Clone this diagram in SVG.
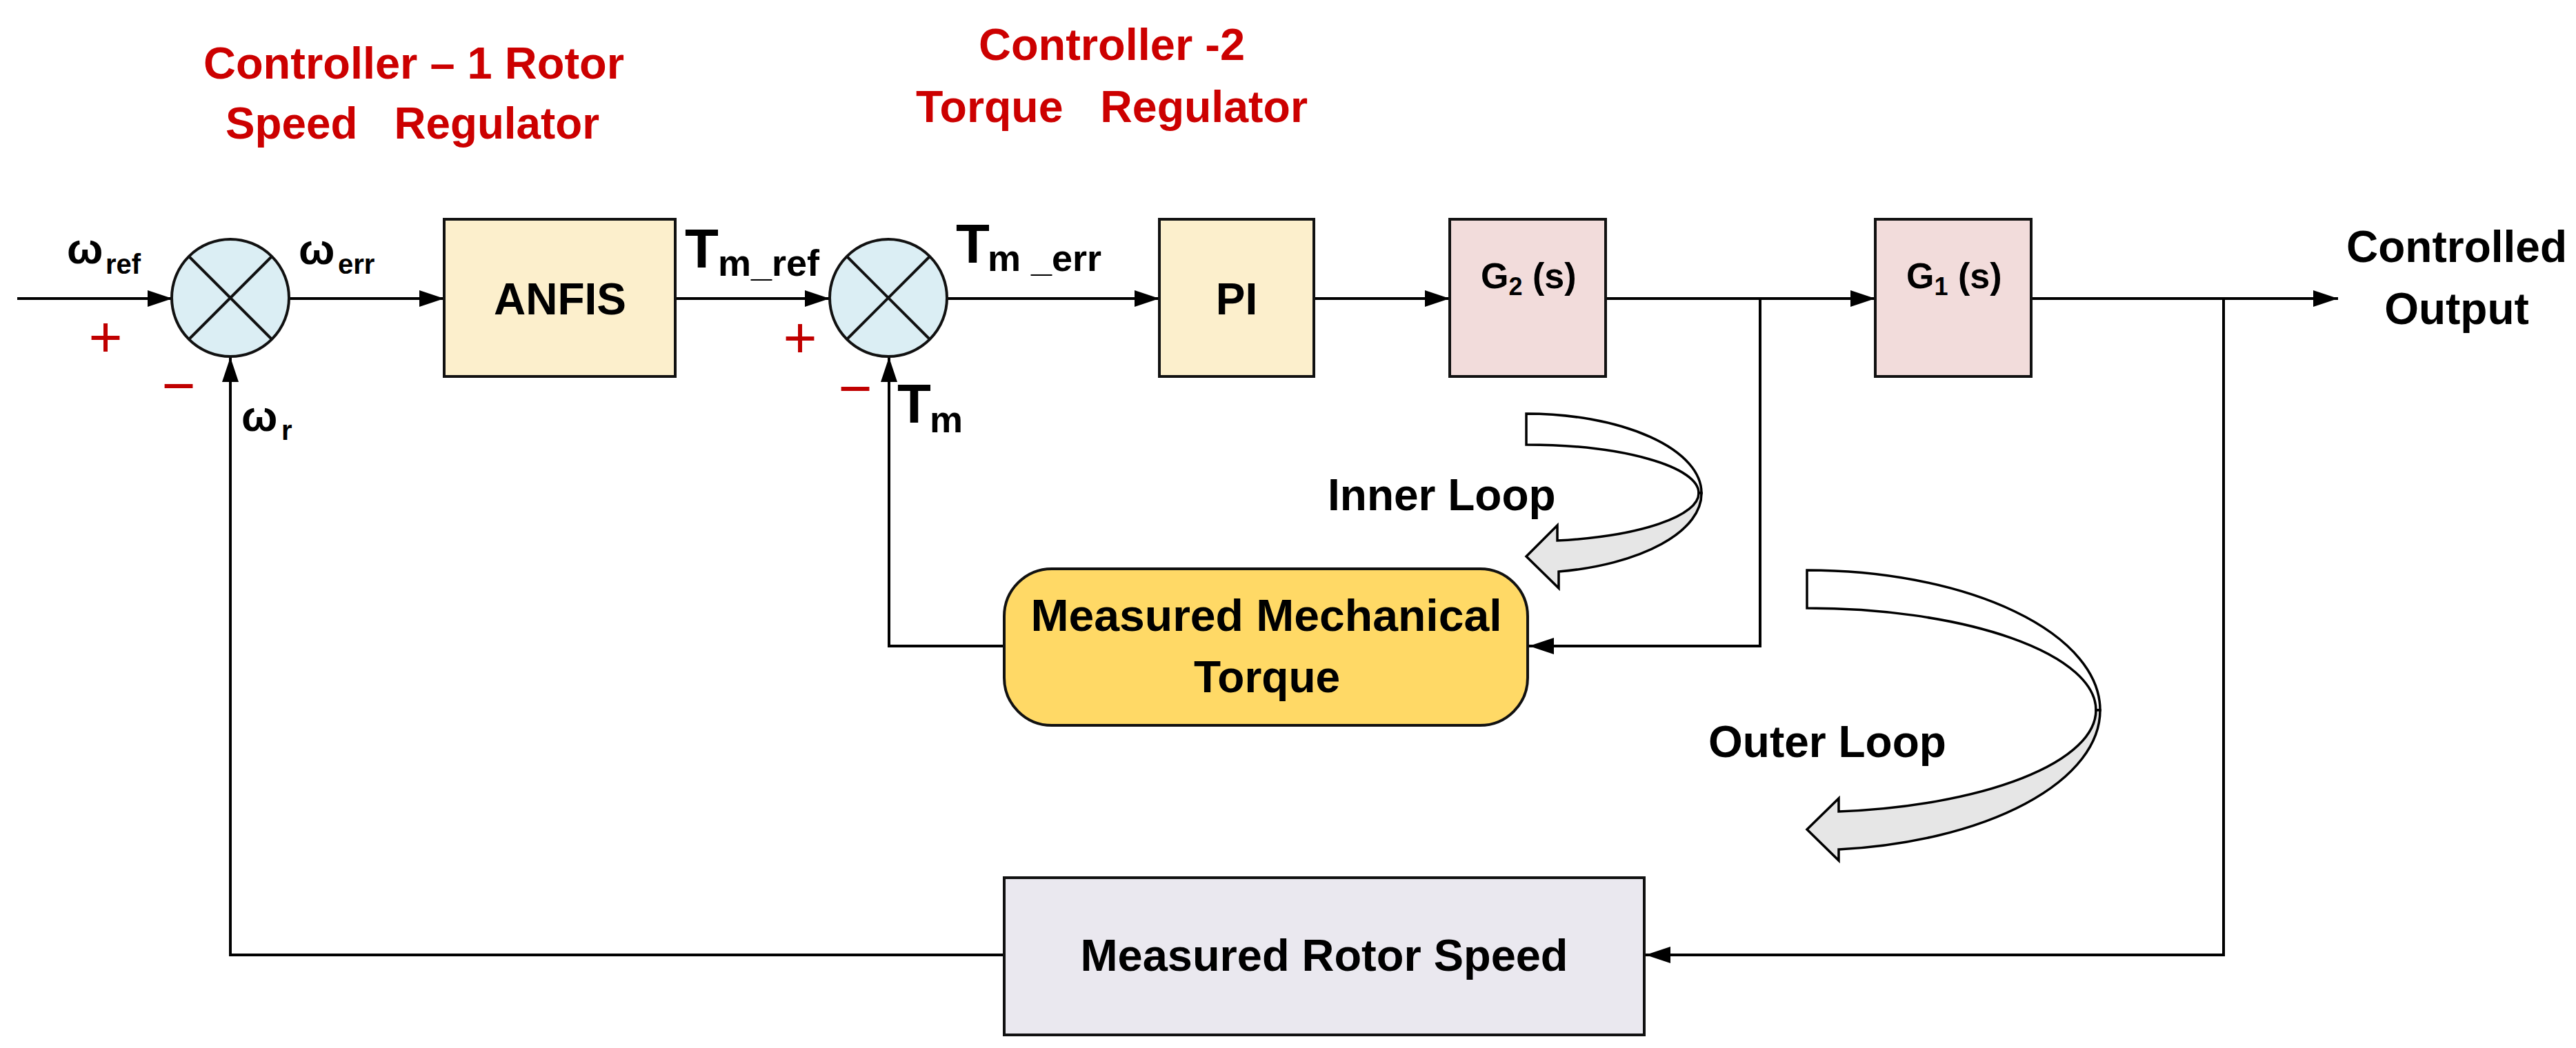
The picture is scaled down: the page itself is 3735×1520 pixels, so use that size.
<svg xmlns="http://www.w3.org/2000/svg" width="3735" height="1520" viewBox="0 0 3735 1520">
<style>
  text { font-family: "Liberation Sans", Arial, sans-serif; font-weight: bold; fill: #000; }
  .title { fill: #cc0000; font-size: 64px; }
  .lbl { font-size: 64px; }
  .sub { font-size: 40px; }
  .big { font-size: 80px; }
  .tsub { font-size: 54px; }
  .sign { font-weight: normal; fill: #c00000; font-size: 84px; }
  .box { stroke: #111; stroke-width: 4; }
  .wire { fill: none; stroke: #000; stroke-width: 4; }
  .loop { stroke: #000; stroke-width: 3.5; stroke-linejoin: miter; }
</style>
<defs>
  <marker id="ah" viewBox="0 0 36 24" refX="36" refY="12" markerWidth="36" markerHeight="24" markerUnits="userSpaceOnUse" orient="auto">
    <path d="M0,0 L36,12 L0,24 Z" fill="#000"/>
  </marker>
</defs>
<rect width="3735" height="1520" fill="#fff"/>

<g id="titles">
  <text class="title" x="295" y="114" textLength="610" lengthAdjust="spacingAndGlyphs">Controller – 1 Rotor</text>
  <text class="title" x="327" y="201" xml:space="preserve" textLength="542" lengthAdjust="spacingAndGlyphs">Speed   Regulator</text>
  <text class="title" x="1419" y="87" textLength="386" lengthAdjust="spacingAndGlyphs">Controller -2</text>
  <text class="title" x="1328" y="177" xml:space="preserve" textLength="568" lengthAdjust="spacingAndGlyphs">Torque   Regulator</text>
</g>

<g id="connectors">
  <path class="wire" d="M25,433 L250,433" marker-end="url(#ah)"/>
  <path class="wire" d="M418,433 L644,433" marker-end="url(#ah)"/>
  <path class="wire" d="M979,433 L1203,433" marker-end="url(#ah)"/>
  <path class="wire" d="M1373,433 L1681,433" marker-end="url(#ah)"/>
  <path class="wire" d="M1905,433 L2102,433" marker-end="url(#ah)"/>
  <path class="wire" d="M2328,433 L2719,433" marker-end="url(#ah)"/>
  <path class="wire" d="M2945,433 L3390,433" marker-end="url(#ah)"/>
  <path class="wire" d="M2552,433 L2552,937 L2217,937" marker-end="url(#ah)"/>
  <path class="wire" d="M1456,937 L1289,937 L1289,518" marker-end="url(#ah)"/>
  <path class="wire" d="M3224,433 L3224,1385 L2386,1385" marker-end="url(#ah)"/>
  <path class="wire" d="M1456,1385 L334,1385 L334,518" marker-end="url(#ah)"/>
</g>

<g id="sum1">
  <circle cx="334" cy="432" r="85" fill="#dbeef4" stroke="#111" stroke-width="4"/>
  <path d="M274,372 L394,492 M394,372 L274,492" stroke="#111" stroke-width="4"/>
</g>
<g id="sum2">
  <circle cx="1288" cy="432" r="85" fill="#dbeef4" stroke="#111" stroke-width="4"/>
  <path d="M1228,372 L1348,492 M1348,372 L1228,492" stroke="#111" stroke-width="4"/>
</g>

<g id="anfis">
  <rect class="box" x="644" y="318" width="335" height="228" fill="#fcefcc"/>
  <text class="lbl" x="812" y="456" text-anchor="middle">ANFIS</text>
</g>
<g id="pi">
  <rect class="box" x="1681" y="318" width="224" height="228" fill="#fcefcc"/>
  <text class="lbl" x="1793" y="456" text-anchor="middle">PI</text>
</g>
<g id="g2">
  <rect class="box" x="2102" y="318" width="226" height="228" fill="#f2dcdb"/>
  <text x="2147" y="418" style="font-size:52px">G<tspan style="font-size:36px" dy="10">2</tspan><tspan dy="-10"> (s)</tspan></text>
</g>
<g id="g1">
  <rect class="box" x="2719" y="318" width="226" height="228" fill="#f2dcdb"/>
  <text x="2764" y="418" style="font-size:52px">G<tspan style="font-size:36px" dy="10">1</tspan><tspan dy="-10"> (s)</tspan></text>
</g>
<g id="mech-torque">
  <rect class="box" x="1456" y="825" width="759" height="227" rx="69" ry="69" fill="#ffd966"/>
  <text class="lbl" x="1836" y="915" text-anchor="middle" textLength="683" lengthAdjust="spacingAndGlyphs">Measured Mechanical</text>
  <text class="lbl" x="1837" y="1004" text-anchor="middle">Torque</text>
</g>
<g id="rotor-speed">
  <rect class="box" x="1456" y="1273" width="928" height="228" fill="#eae8ef"/>
  <text class="lbl" x="1920" y="1408" text-anchor="middle" textLength="707" lengthAdjust="spacingAndGlyphs">Measured Rotor Speed</text>
</g>

<g id="inner-loop">
  <path class="loop" fill="#fff" d="M2213,600 A254,115 0 0 1 2467,715 L2463,715 A250,70 0 0 0 2213,645 Z"/>
  <path class="loop" fill="#e6e6e6" d="M2463,715 A250,70 0 0 1 2258,784 L2258,762 L2213,807 L2260,853 L2260,829 A254,115 0 0 0 2467,715 Z"/>
  <text class="lbl" x="1925" y="740">Inner Loop</text>
</g>
<g id="outer-loop">
  <path class="loop" fill="#fff" d="M2620,827 A425,203 0 0 1 3045,1030 L3039,1030 A419,148 0 0 0 2620,882 Z"/>
  <path class="loop" fill="#e6e6e6" d="M3039,1030 A419,148 0 0 1 2666,1177 L2666,1158 L2620,1203 L2666,1248 L2666,1232 A425,203 0 0 0 3045,1030 Z"/>
  <text class="lbl" x="2477" y="1098">Outer Loop</text>
</g>

<g id="labels">
  <text class="lbl" x="97" y="382" style="font-size:62px">ω</text>
  <text class="sub" x="153" y="397">ref</text>
  <text class="lbl" x="433" y="383" style="font-size:62px">ω</text>
  <text class="sub" x="490" y="397">err</text>
  <text class="lbl" x="350" y="625" style="font-size:62px">ω</text>
  <text class="sub" x="408" y="638">r</text>
  <text class="big" x="993" y="388">T</text>
  <text class="tsub" x="1041" y="400">m_ref</text>
  <text class="big" x="1386" y="381">T</text>
  <text class="tsub" x="1432" y="393" xml:space="preserve">m _err</text>
  <text class="big" x="1301" y="613">T</text>
  <text class="tsub" x="1348" y="627">m</text>
  <text class="sign" x="153" y="517" text-anchor="middle">+</text>
  <text class="sign" x="259" y="588" text-anchor="middle">−</text>
  <text class="sign" x="1160" y="518" text-anchor="middle">+</text>
  <text class="sign" x="1240" y="592" text-anchor="middle">−</text>
  <text class="lbl" x="3562" y="380" text-anchor="middle">Controlled</text>
  <text class="lbl" x="3562" y="470" text-anchor="middle">Output</text>
</g>
</svg>
